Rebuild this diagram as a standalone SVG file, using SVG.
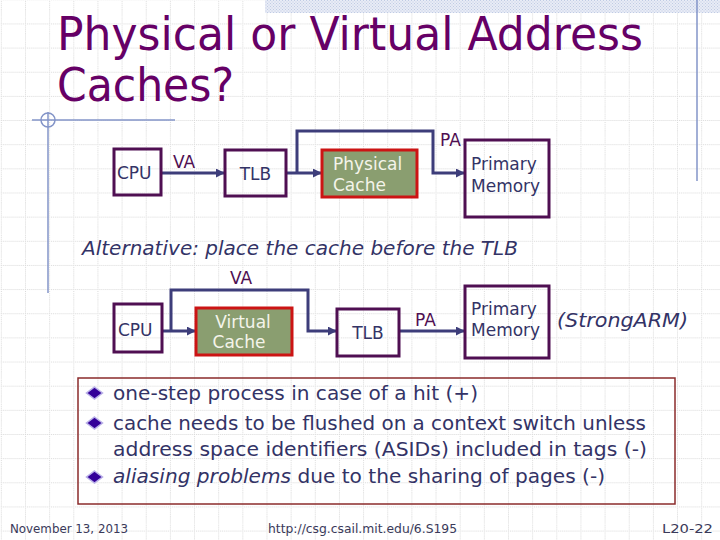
<svg xmlns="http://www.w3.org/2000/svg" width="720" height="540" viewBox="0 0 720 540">
<defs>
<pattern id="grid" x="0.85" y="-0.7" width="24.15" height="24.15" patternUnits="userSpaceOnUse">
<line x1="0" y1="0.5" x2="24.15" y2="0.5" stroke="#d9d9d9" stroke-width="1" stroke-dasharray="1,1"/>
<line x1="0.5" y1="0" x2="0.5" y2="24.15" stroke="#d9d9d9" stroke-width="1" stroke-dasharray="1,1"/>
</pattern>
<pattern id="hatch" width="3" height="3" patternUnits="userSpaceOnUse">
<rect width="3" height="3" fill="#e8ecf6"/>
<rect width="1" height="1" fill="#c0cbe4"/>
<rect x="1.5" y="1.5" width="1" height="1" fill="#c0cbe4"/>
</pattern>
<marker id="arr" viewBox="0 0 10 10" refX="9" refY="5" markerWidth="9" markerHeight="9" markerUnits="userSpaceOnUse" orient="auto">
<path d="M0,0 L10,5 L0,10 z" fill="#3d3d7a"/>
</marker>
<path id="dia" d="M0,-6 L8,0 L0,6 L-8,0 z"/>
</defs>
<style>
.box{fill:none;stroke:#4f0f52;stroke-width:3}
.cache{fill:#8a9e70;stroke:#cc1414;stroke-width:3}
.conn{fill:none;stroke:#3d3d7a;stroke-width:3}
.t{font-family:"DejaVu Sans","Verdana",sans-serif;font-size:17px;fill:#333366}
.ct{font-family:"DejaVu Sans","Verdana",sans-serif;font-size:17px;fill:#f4f4ea}
.lbl{font-family:"DejaVu Sans","Verdana",sans-serif;font-size:17px;fill:#4f0f52}
.title{font-family:"DejaVu Sans","Tahoma",sans-serif;font-size:47px;fill:#660066}
.it{font-family:"DejaVu Sans","Verdana",sans-serif;font-size:19px;font-style:italic;fill:#333366}
.bul{font-family:"DejaVu Sans","Verdana",sans-serif;font-size:19.5px;fill:#333366}
.foot{font-family:"DejaVu Sans","Tahoma",sans-serif;font-size:13px;fill:#3a3a5a}
.deco{stroke:#8394c8;stroke-width:1.5;fill:none}
.bd{fill:#330099;stroke:#b9b0e8;stroke-width:1.5}
</style>
<rect width="720" height="540" fill="#ffffff"/>
<rect width="720" height="540" fill="url(#grid)"/>
<rect x="265" y="0" width="455" height="13" fill="url(#hatch)"/>
<line class="deco" x1="697" y1="0" x2="697" y2="181"/>
<line class="deco" x1="48" y1="112" x2="48" y2="293"/>
<line class="deco" x1="32" y1="120" x2="175" y2="120"/>
<circle class="deco" cx="48" cy="120" r="7" stroke-width="1"/>

<text class="title" x="57" y="50" textLength="586" lengthAdjust="spacingAndGlyphs">Physical or Virtual Address</text>
<text class="title" x="57" y="101" textLength="177" lengthAdjust="spacingAndGlyphs">Caches?</text>

<g id="connectors">
<line class="conn" x1="162" y1="173" x2="224" y2="173" marker-end="url(#arr)"/>
<line class="conn" x1="286" y1="173" x2="321" y2="173" marker-end="url(#arr)"/>
<path class="conn" d="M297,173 V131 H433 V173 H464" marker-end="url(#arr)"/>
<line class="conn" x1="162" y1="331" x2="195" y2="331" marker-end="url(#arr)"/>
<path class="conn" d="M171,331 V290 H308 V331 H336" marker-end="url(#arr)"/>
<line class="conn" x1="399" y1="331" x2="464" y2="331" marker-end="url(#arr)"/>
<text class="lbl" x="173" y="168">VA</text>
<text class="lbl" x="440" y="146">PA</text>
<text class="lbl" x="230" y="284">VA</text>
<text class="lbl" x="415" y="326">PA</text>
</g>

<g id="cpu1"><rect class="box" x="114" y="149" width="47" height="46"/><text class="t" x="117" y="179">CPU</text></g>
<g id="tlb1"><rect class="box" x="225" y="150" width="61" height="46"/><text class="t" x="255.5" y="180" text-anchor="middle">TLB</text></g>
<g id="pcache"><rect class="cache" x="322" y="150" width="95" height="47"/><text class="ct" x="333" y="170">Physical</text><text class="ct" x="333" y="191">Cache</text></g>
<g id="pm1"><rect class="box" x="465" y="140" width="84" height="77"/><text class="t" x="471" y="170">Primary</text><text class="t" x="471" y="192">Memory</text></g>

<text class="it" x="82" y="255" textLength="436" lengthAdjust="spacingAndGlyphs">Alternative: place the cache before the TLB</text>

<g id="cpu2"><rect class="box" x="114" y="304" width="48" height="48"/><text class="t" x="118" y="336">CPU</text></g>
<g id="vcache"><rect class="cache" x="196" y="308" width="96" height="47"/><text class="ct" x="243" y="328" text-anchor="middle">Virtual</text><text class="ct" x="239" y="348" text-anchor="middle">Cache</text></g>
<g id="tlb2"><rect class="box" x="337" y="309" width="62" height="47"/><text class="t" x="368" y="339" text-anchor="middle">TLB</text></g>
<g id="pm2"><rect class="box" x="465" y="286" width="84" height="72"/><text class="t" x="471" y="315">Primary</text><text class="t" x="471" y="336">Memory</text></g>
<text class="it" x="557" y="327" textLength="131" lengthAdjust="spacingAndGlyphs">(StrongARM)</text>

<g id="bullets">
<rect x="78" y="378" width="597" height="126" fill="none" stroke="#8b2b2b" stroke-width="1.5"/>
<use href="#dia" class="bd" x="94.5" y="393"/>
<use href="#dia" class="bd" x="94.5" y="423"/>
<use href="#dia" class="bd" x="94.5" y="477"/>
<text class="bul" x="113" y="400" textLength="365" lengthAdjust="spacingAndGlyphs">one-step process in case of a hit (+)</text>
<text class="bul" x="113" y="430" textLength="533" lengthAdjust="spacingAndGlyphs">cache needs to be flushed on a context switch unless</text>
<text class="bul" x="113" y="456" textLength="534" lengthAdjust="spacingAndGlyphs">address space identifiers (ASIDs) included in tags (-)</text>
<text class="bul" x="113" y="483" textLength="492" lengthAdjust="spacingAndGlyphs"><tspan font-style="italic">aliasing problems</tspan> due to the sharing of pages (-)</text>
</g>

<text class="foot" x="10" y="533" textLength="118" lengthAdjust="spacingAndGlyphs">November 13, 2013</text>
<text class="foot" x="268" y="533" textLength="189" lengthAdjust="spacingAndGlyphs">http://csg.csail.mit.edu/6.S195</text>
<text class="foot" x="662" y="533" textLength="51" lengthAdjust="spacingAndGlyphs">L20-22</text>
</svg>
